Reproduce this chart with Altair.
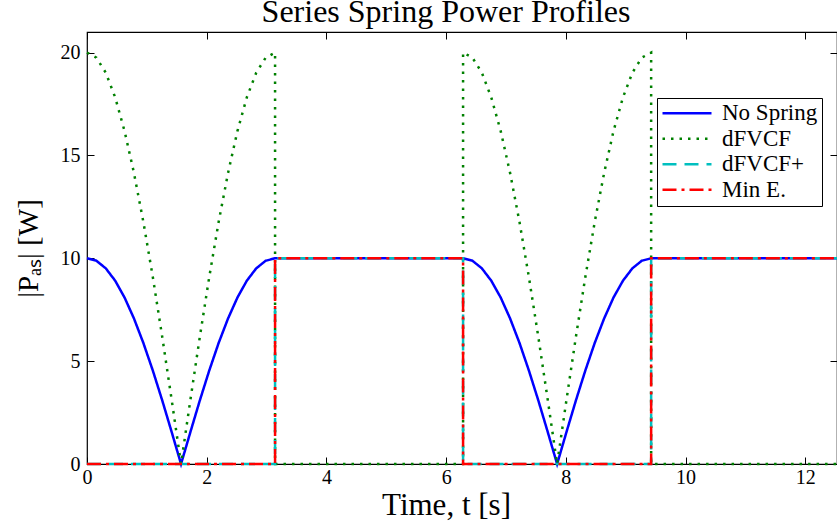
import altair as alt
import pandas as pd

series_names = ["No Spring", "dFVCF", "dFVCF+", "Min E."]
series_colors = ["#0000ff", "#008000", "#00bfbf", "#ff0000"]
series_dashes = [[1, 0], [2.5, 6], [14, 8], [14, 5, 3, 5]]

# time samples of the two arches (s)
t_arch1 = [0.000, 0.157, 0.314, 0.471, 0.628, 0.785, 0.942, 1.100, 1.257, 1.414, 1.571,
           1.728, 1.885, 2.042, 2.199, 2.356, 2.513, 2.670, 2.827, 2.985, 3.142]
t_arch2 = [6.283, 6.440, 6.597, 6.754, 6.912, 7.069, 7.226, 7.383, 7.540, 7.697, 7.854,
           8.011, 8.168, 8.325, 8.482, 8.639, 8.796, 8.954, 9.111, 9.268, 9.425]
# power read along the arches (W)
nospring_arch = [10.0, 9.88, 9.51, 8.91, 8.09, 7.07, 5.88, 4.54, 3.09, 1.56, 0.0,
                 1.56, 3.09, 4.54, 5.88, 7.07, 8.09, 8.91, 9.51, 9.88, 10.0]
dfvcf_arch = [20.0, 19.75, 19.02, 17.82, 16.18, 14.14, 11.76, 9.08, 6.18, 3.13, 0.0,
              3.13, 6.18, 9.08, 11.76, 14.14, 16.18, 17.82, 19.02, 19.75, 20.0]

nospring_t = t_arch1 + t_arch2 + [12.566]
nospring_p = nospring_arch + nospring_arch + [10.0]

dfvcf_t = t_arch1 + [3.142, 6.283] + t_arch2 + [9.425, 12.566]
dfvcf_p = dfvcf_arch + [0.0, 0.0] + dfvcf_arch + [0.0, 0.0]

dfvcfp_t = [0.0, 3.142, 3.142, 6.283, 6.283, 9.425, 9.425, 12.566]
dfvcfp_p = [0.0, 0.0, 10.0, 10.0, 0.0, 0.0, 10.0, 10.0]

mine_t = [0.0, 3.142, 3.142, 6.283, 6.283, 9.425, 9.425, 12.566]
mine_p = [0.0, 0.0, 10.0, 10.0, 0.0, 0.0, 10.0, 10.0]

x_ticks = [0, 2, 4, 6, 8, 10, 12]
y_ticks = [0, 5, 10, 15, 20]

rows = []
for name, ts, ps in [("No Spring", nospring_t, nospring_p),
                     ("dFVCF", dfvcf_t, dfvcf_p),
                     ("dFVCF+", dfvcfp_t, dfvcfp_p),
                     ("Min E.", mine_t, mine_p)]:
    for i, (t, p) in enumerate(zip(ts, ps)):
        rows.append({"series": name, "t": t, "p": p, "idx": i})
df = pd.DataFrame(rows)

FONT = "Liberation Serif"
x_scale = alt.Scale(domain=[0, 12.53], nice=False, zero=False)
y_scale = alt.Scale(domain=[0, 21], nice=False)

lines = alt.Chart(df).mark_line(strokeWidth=2.5).encode(
    x=alt.X("t:Q", scale=x_scale, title="Time, t [s]",
            axis=alt.Axis(orient="bottom", values=x_ticks, offset=-7, tickSize=7,
                          domain=False, labelPadding=3, labelFlush=False,
                          minExtent=0, maxExtent=0, titleFontSize=31,
                          titleX=359, titleY=57,
                          titleAlign="center", titleBaseline="alphabetic")),
    y=alt.Y("p:Q", scale=y_scale, title="|Pₐₛ| [W]",
            axis=alt.Axis(orient="left", values=y_ticks, offset=-7, tickSize=7,
                          domain=False, labelPadding=7, labelFlush=False,
                          minExtent=0, maxExtent=0,
                          titleX=-66, titleY=216, titleAngle=270,
                          titleAlign="center", titleBaseline="middle")),
    color=alt.Color("series:N", sort=series_names,
                    scale=alt.Scale(domain=series_names, range=series_colors),
                    legend=alt.Legend(title=None)),
    strokeDash=alt.StrokeDash("series:N", sort=series_names,
                              scale=alt.Scale(domain=series_names, range=series_dashes),
                              legend=alt.Legend(title=None)),
    order=alt.Order("idx:Q"),
)

frame = alt.Chart(df).mark_point(opacity=0).encode(
    x=alt.X("t:Q", scale=x_scale, title=None,
            axis=alt.Axis(orient="top", values=x_ticks, offset=-7, tickSize=7,
                          domain=False, labels=False,
                          minExtent=0, maxExtent=0)),
    y=alt.Y("p:Q", scale=y_scale, title=None,
            axis=alt.Axis(orient="right", values=y_ticks, offset=-7, tickSize=7,
                          domain=False, labels=False,
                          minExtent=0, maxExtent=0)),
)

chart = alt.layer(frame, lines).resolve_axis(x="independent", y="independent").properties(
    width=750,
    height=432,
    padding={"left": 87, "top": 32, "right": 0, "bottom": 63},
    autosize=alt.AutoSizeParams(type="none"),
    background="white",
    title=alt.TitleParams("Series Spring Power Profiles", font=FONT, fontSize=32,
                          fontWeight="normal", color="black", anchor="middle",
                          frame="group", baseline="alphabetic", offset=11, dx=-16, dy=33),
).configure_view(
    stroke="black", strokeWidth=1.2
).configure_axis(
    grid=False, tickColor="black", tickWidth=1,
    labelFont=FONT, labelFontSize=20, labelColor="black",
    titleFont=FONT, titleFontSize=29, titleFontWeight="normal", titleColor="black",
).configure_legend(
    orient="none", legendX=570, legendY=66,
    symbolType="stroke", symbolSize=2401, symbolStrokeWidth=2.5,
    labelFont=FONT, labelFontSize=23, labelColor="black", labelOffset=9,
    padding=4, rowPadding=1.5, clipHeight=22.5,
    strokeColor="black", fillColor="white", cornerRadius=0,
)

chart.save("out.html", embed_options={"renderer": "svg", "actions": False})
